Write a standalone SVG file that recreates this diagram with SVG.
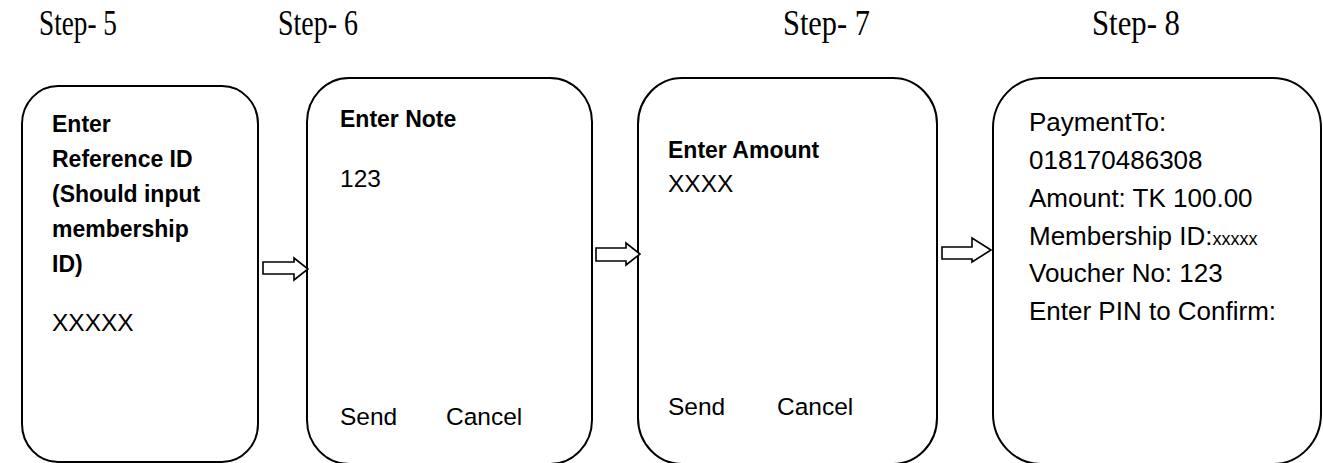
<svg xmlns="http://www.w3.org/2000/svg" width="1323" height="463" viewBox="0 0 1323 463">
<style>
.box{fill:#fff;stroke:#000;stroke-width:2}
.arr{fill:#fff;stroke:#000;stroke-width:1.6;stroke-linejoin:miter}
.step{font-family:"Liberation Serif","Times New Roman",serif;font-size:36px;fill:#000}
.b{font-family:"Liberation Sans",Arial,sans-serif;font-weight:bold;font-size:23px;fill:#000}
.r{font-family:"Liberation Sans",Arial,sans-serif;font-size:24.5px;fill:#000}
.r4{font-family:"Liberation Sans",Arial,sans-serif;font-size:26px;fill:#000}
.sm{font-size:18px}
</style>
<rect width="1323" height="463" fill="#fff"/>
<g id="titles">
<text class="step" x="39" y="35" textLength="78" lengthAdjust="spacingAndGlyphs">Step- 5</text>
<text class="step" x="278" y="35" textLength="80" lengthAdjust="spacingAndGlyphs">Step- 6</text>
<text class="step" x="783" y="35" textLength="87" lengthAdjust="spacingAndGlyphs">Step- 7</text>
<text class="step" x="1092" y="35" textLength="88" lengthAdjust="spacingAndGlyphs">Step- 8</text>
</g>
<g id="step5">
<rect class="box" x="22" y="86" width="236" height="376" rx="36" ry="38"/>
<text class="b" x="52" y="132">Enter</text>
<text class="b" x="52" y="167">Reference ID</text>
<text class="b" x="52" y="202">(Should input</text>
<text class="b" x="52" y="237">membership</text>
<text class="b" x="52" y="272">ID)</text>
<text class="r" x="52" y="331">XXXXX</text>
</g>
<g id="step6">
<rect class="box" x="307" y="78" width="285" height="386" rx="42" ry="44"/>
<text class="b" x="340" y="127">Enter Note</text>
<text class="r" x="340" y="187">123</text>
<text class="r" x="340" y="425">Send</text>
<text class="r" x="446" y="425">Cancel</text>
</g>
<g id="step7">
<rect class="box" x="638" y="78" width="299" height="386" rx="44" ry="46"/>
<text class="b" x="668" y="158">Enter Amount</text>
<text class="r" x="668" y="192">XXXX</text>
<text class="r" x="668" y="415">Send</text>
<text class="r" x="777" y="415">Cancel</text>
</g>
<g id="step8">
<rect class="box" x="993" y="78" width="328" height="386" rx="48" ry="50"/>
<text class="r4" x="1029" y="131">PaymentTo:</text>
<text class="r4" x="1029" y="169">018170486308</text>
<text class="r4" x="1029" y="207">Amount: TK 100.00</text>
<text class="r4" x="1029" y="245">Membership ID:<tspan class="sm">xxxxx</tspan></text>
<text class="r4" x="1029" y="282">Voucher No: 123</text>
<text class="r4" x="1029" y="320">Enter PIN to Confirm:</text>
</g>
<g id="connectors">
<polygon class="arr" points="263,262 294,262 294,258 308,269 294,280 294,274 263,274"/>
<polygon class="arr" points="596,248 626,248 626,243 640,254 626,265 626,261 596,261"/>
<polygon class="arr" points="942,247 972,247 972,238 991,250 972,262 972,259 942,259"/>
</g>
</svg>
